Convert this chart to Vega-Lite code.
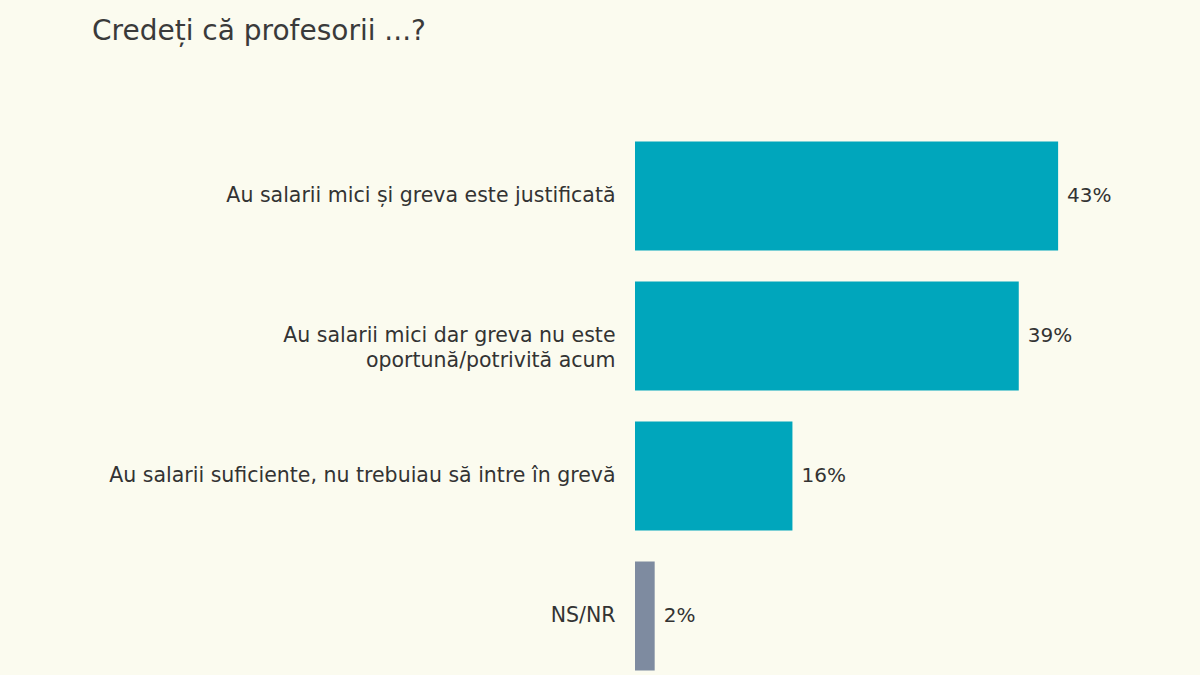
{
  "$schema": "https://vega.github.io/schema/vega-lite/v6.json",
  "autosize": "none",
  "width": 492,
  "height": 560,
  "padding": {"left": 635, "top": 126, "right": 73, "bottom": 0},
  "background": "#fbfbef",
  "title": {
    "text": "Credeți că profesorii ...?",
    "anchor": "start",
    "frame": "group",
    "dx": -543,
    "offset": 80,
    "fontSize": 28,
    "fontWeight": "normal",
    "color": "#3a3a3a",
    "font": "DejaVu Sans"
  },
  "data": {
    "values": [
      {"raspuns": "Au salarii mici și greva este justificată", "pct": 0.43, "grup": "da", "ord": 1},
      {"raspuns": "Au salarii mici dar greva nu este|oportună/potrivită acum", "pct": 0.39, "grup": "da", "ord": 2},
      {"raspuns": "Au salarii suficiente, nu trebuiau să intre în grevă", "pct": 0.16, "grup": "da", "ord": 3},
      {"raspuns": "NS/NR", "pct": 0.02, "grup": "ns", "ord": 4}
    ]
  },
  "encoding": {
    "y": {
      "field": "raspuns",
      "type": "nominal",
      "sort": {"field": "ord"},
      "scale": {"paddingInner": 0.22, "paddingOuter": 0.11},
      "axis": {
        "title": null,
        "domain": false,
        "ticks": false,
        "labelPadding": 20,
        "labelFontSize": 20.5,
        "labelFont": "DejaVu Sans",
        "labelColor": "#333333",
        "labelLineHeight": 25,
        "labelLimit": 600,
        "labelExpr": "split(datum.label, '|')"
      }
    },
    "x": {
      "field": "pct",
      "type": "quantitative",
      "scale": {"domain": [0, 0.5]},
      "axis": null
    }
  },
  "layer": [
    {
      "mark": {"type": "bar"},
      "encoding": {
        "color": {
          "field": "grup",
          "type": "nominal",
          "scale": {"domain": ["da", "ns"], "range": ["#00a6bc", "#7e8ba0"]},
          "legend": null
        }
      }
    },
    {
      "mark": {"type": "text", "align": "left", "dx": 9, "fontSize": 20, "font": "DejaVu Sans", "color": "#333333"},
      "encoding": {
        "text": {"field": "pct", "type": "quantitative", "format": ".0%"}
      }
    }
  ],
  "config": {
    "view": {"stroke": null}
  }
}
